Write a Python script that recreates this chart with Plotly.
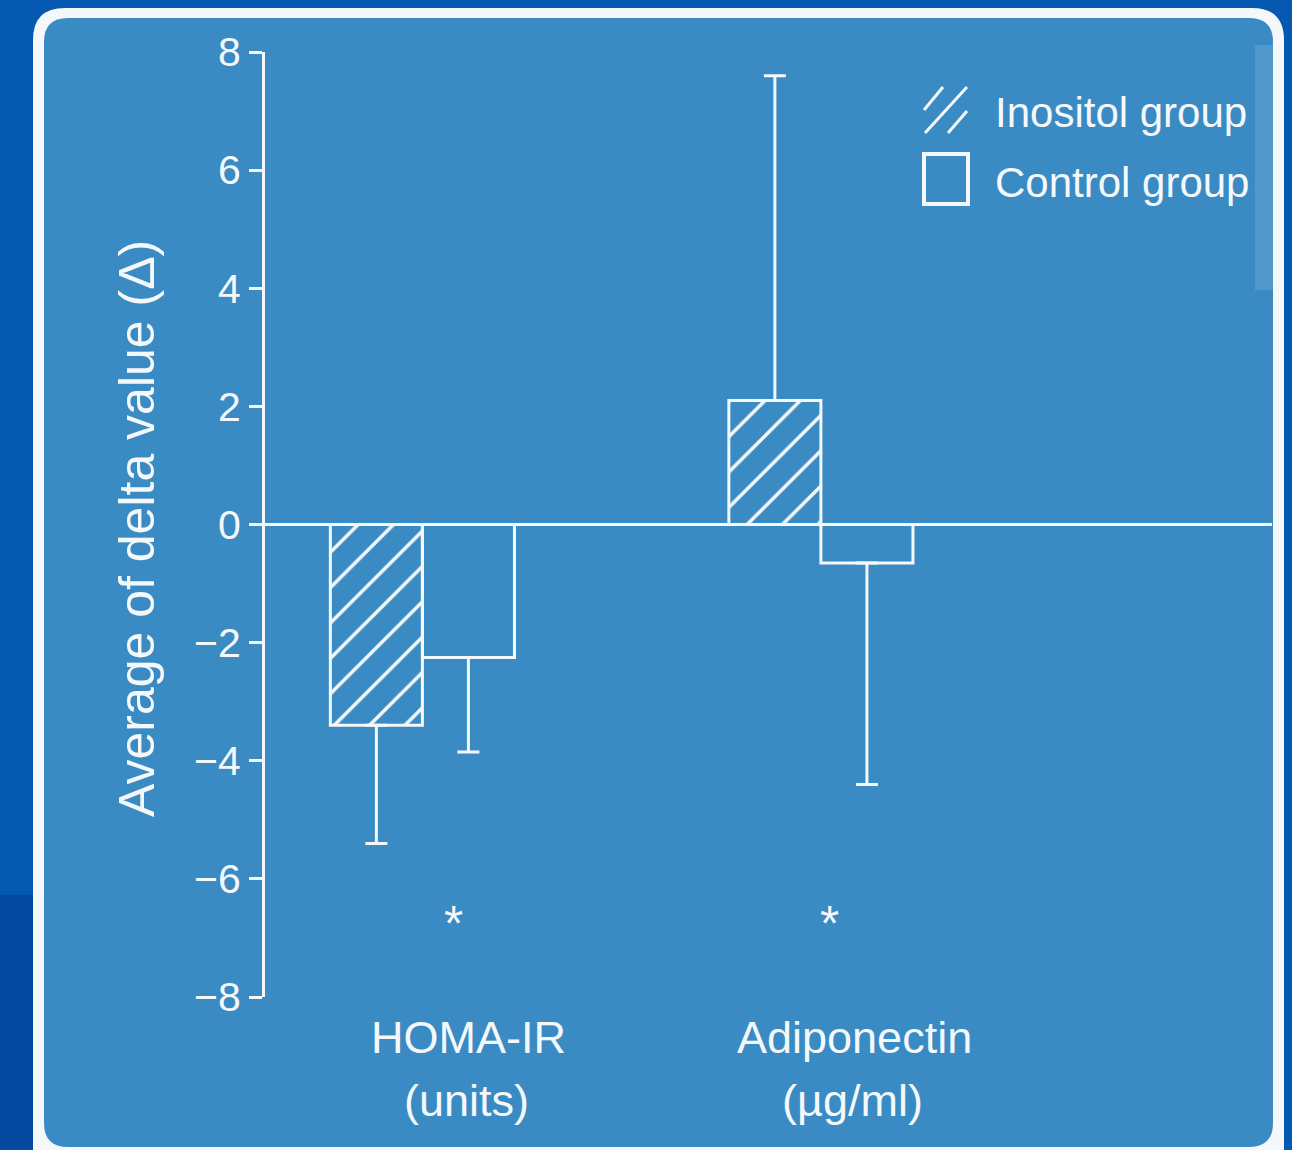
import plotly.graph_objects as go

# ---------------- data ----------------
categories = ["HOMA-IR", "Adiponectin"]
category_units = ["(units)", "(µg/ml)"]
series_names = ["Inositol group", "Control group"]
inositol_mean = [-3.4, 2.1]
inositol_err_up = [0.0, 5.5]
inositol_err_down = [2.0, 0.0]
control_mean = [-2.25, -0.65]
control_err_up = [0.0, 0.0]
control_err_down = [1.6, 3.75]
significance_marks = ["*", "*"]
significance_y = [-6.55, -6.55]
y_ticks = [-8, -6, -4, -2, 0, 2, 4, 6, 8]
y_title = "Average of delta value (Δ)"

# ---------------- layout geometry ----------------
FW, FH = 1292, 1150
L, R, T, B = 265, 1272, 52, 997
PW, PH = R - L, B - T

def px(x):
    return (x - L) / PW

def py(y):
    return (B - y) / PH

def rrect(x0, y0, x1, y1, r):
    pts = [
        f"M {px(x0 + r)},{py(y0)}",
        f"L {px(x1 - r)},{py(y0)}",
        f"Q {px(x1)},{py(y0)} {px(x1)},{py(y0 + r)}",
        f"L {px(x1)},{py(y1 - r)}",
        f"Q {px(x1)},{py(y1)} {px(x1 - r)},{py(y1)}",
        f"L {px(x0 + r)},{py(y1)}",
        f"Q {px(x0)},{py(y1)} {px(x0)},{py(y1 - r)}",
        f"L {px(x0)},{py(y0 + r)}",
        f"Q {px(x0)},{py(y0)} {px(x0 + r)},{py(y0)}",
        "Z",
    ]
    return " ".join(pts)

WHITE = "#f4f8fb"
OUTER = "#0659b1"
PANEL = "#3a8bc3"
FONT = "Liberation Sans, Arial, sans-serif"

fig = go.Figure()

fig.add_trace(go.Bar(
    name=series_names[0], x=categories, y=inositol_mean,
    marker=dict(color="rgba(0,0,0,0)", line=dict(color=WHITE, width=3),
                pattern=dict(shape="/", fgcolor=WHITE, bgcolor="rgba(0,0,0,0)",
                             fillmode="replace", size=25, solidity=0.14)),
    error_y=dict(type="data", symmetric=False, array=inositol_err_up,
                 arrayminus=inositol_err_down, color=WHITE, thickness=3, width=11),
    showlegend=False,
))
fig.add_trace(go.Bar(
    name=series_names[1], x=categories, y=control_mean,
    marker=dict(color="rgba(0,0,0,0)", line=dict(color=WHITE, width=3)),
    error_y=dict(type="data", symmetric=False, array=control_err_up,
                 arrayminus=control_err_down, color=WHITE, thickness=3, width=11),
    showlegend=False,
))

shapes = [
    dict(type="rect", xref="paper", yref="paper", x0=px(0), x1=px(40), y0=py(895), y1=py(1150),
         fillcolor="#0449a0", line=dict(width=0), layer="below"),
    dict(type="path", xref="paper", yref="paper", path=rrect(33, 8, 1284, 1185, 32),
         fillcolor=WHITE, line=dict(width=0), layer="below"),
    dict(type="path", xref="paper", yref="paper", path=rrect(44, 18, 1273, 1147, 24),
         fillcolor=PANEL, line=dict(width=0), layer="below"),
    dict(type="rect", xref="paper", yref="paper", x0=px(1255), x1=px(1273), y0=py(290), y1=py(45),
         fillcolor="rgba(255,255,255,0.12)", line=dict(width=0), layer="below"),
    # legend icons
    dict(type="line", xref="paper", yref="paper", x0=px(924), y0=py(110), x1=px(943), y1=py(87),
         line=dict(color=WHITE, width=3)),
    dict(type="line", xref="paper", yref="paper", x0=px(925), y0=py(133), x1=px(967), y1=py(87),
         line=dict(color=WHITE, width=3)),
    dict(type="line", xref="paper", yref="paper", x0=px(948), y0=py(133), x1=px(967), y1=py(111),
         line=dict(color=WHITE, width=3)),
    dict(type="rect", xref="paper", yref="paper", x0=px(924), y0=py(204), x1=px(968), y1=py(154),
         line=dict(color=WHITE, width=4), fillcolor="rgba(0,0,0,0)"),
]

annotations = []
label_shift = [46, 34]
for cat, unit, sh in zip(categories, category_units, label_shift):
    annotations.append(dict(x=cat, xref="x", y=py(1037), yref="paper", text=cat, showarrow=False,
                            xshift=sh, xanchor="center", yanchor="middle",
                            font=dict(family=FONT, size=45, color=WHITE)))
    annotations.append(dict(x=cat, xref="x", y=py(1100), yref="paper", text=unit, showarrow=False,
                            xshift=sh - 2, xanchor="center", yanchor="middle",
                            font=dict(family=FONT, size=45, color=WHITE)))
star_shift = [31, 9]
for cat, mark, yv, sh in zip(categories, significance_marks, significance_y, star_shift):
    annotations.append(dict(x=cat, xref="x", y=yv, yref="y", text=mark, showarrow=False,
                            xshift=sh, yshift=-13, font=dict(family=FONT, size=50, color=WHITE)))
legend_y = [112, 182]
for name, ly in zip(series_names, legend_y):
    annotations.append(dict(x=px(993), xref="paper", y=py(ly), yref="paper", text=name,
                            showarrow=False, xanchor="left", yanchor="middle",
                            font=dict(family=FONT, size=42, color=WHITE)))
annotations.append(dict(x=px(137), xref="paper", y=py(529), yref="paper", text=y_title,
                        textangle=-90, showarrow=False, xanchor="center", yanchor="middle",
                        font=dict(family=FONT, size=50, color=WHITE)))

fig.update_layout(
    width=FW, height=FH,
    margin=dict(l=L, r=FW - R, t=T, b=FH - B, pad=0),
    paper_bgcolor=OUTER, plot_bgcolor="rgba(0,0,0,0)",
    barmode="group", bargap=0.538, bargroupgap=0,
    shapes=shapes, annotations=annotations,
    showlegend=False,
    xaxis=dict(range=[-0.395, 2.132], showticklabels=False, showline=False, ticks="",
               showgrid=False, zeroline=False, fixedrange=True),
    yaxis=dict(range=[-8, 8], tickvals=y_ticks, showgrid=False, zeroline=True,
               zerolinecolor=WHITE, zerolinewidth=3, showline=True, linecolor=WHITE,
               linewidth=3, ticks="outside", ticklen=13, tickwidth=3, tickcolor=WHITE,
               tickfont=dict(family=FONT, size=41, color=WHITE), fixedrange=True),
)

fig.write_html("out.html", config={"displayModeBar": False},
               post_script="document.body.style.margin='0';")
